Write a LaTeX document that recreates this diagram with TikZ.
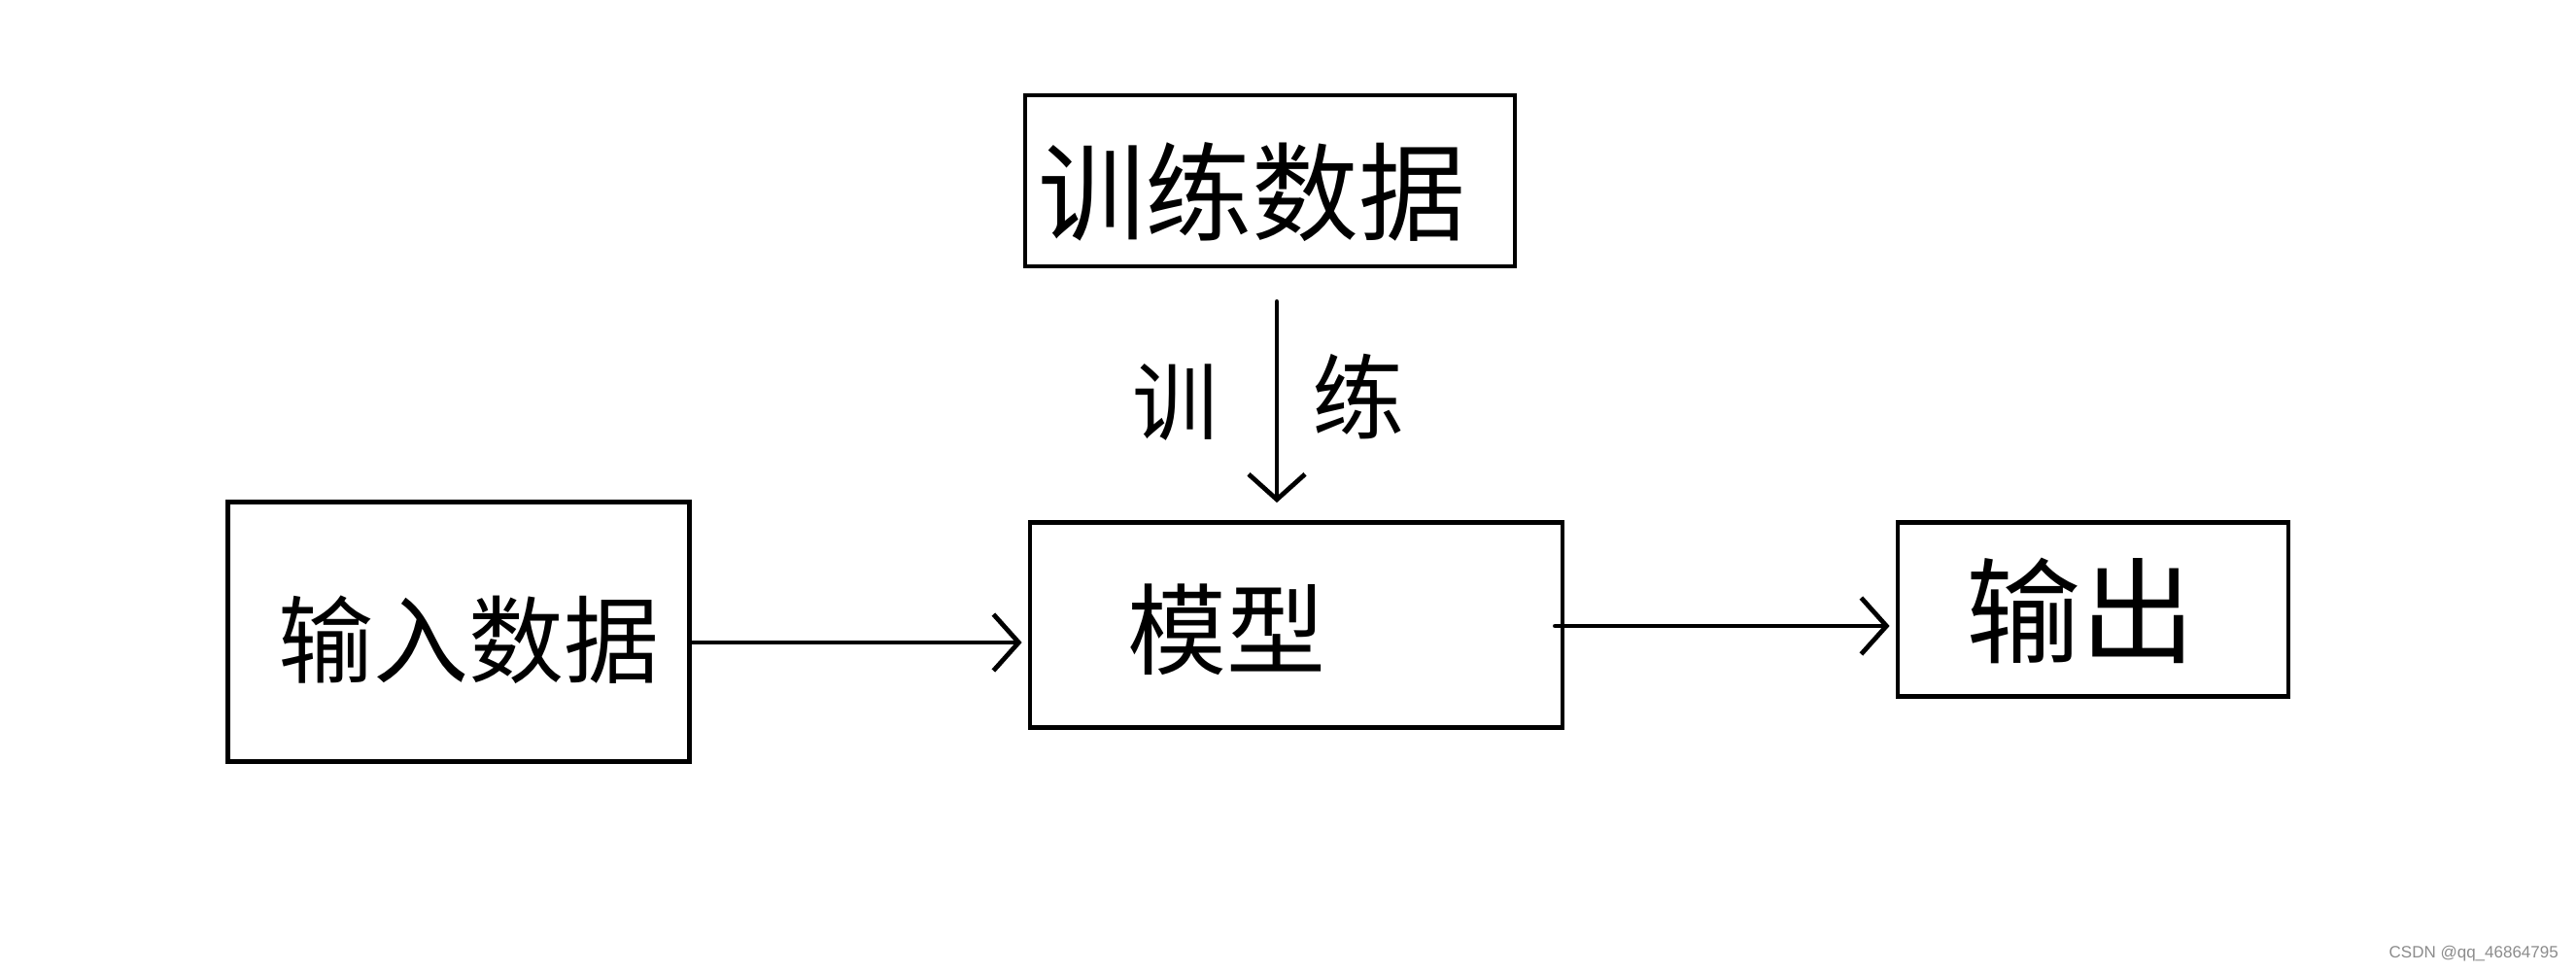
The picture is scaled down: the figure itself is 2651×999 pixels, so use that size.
\documentclass[tikz,border=0pt]{standalone}
\usepackage{fontspec}
\newfontfamily\cjk{Noto Sans CJK SC}
\setmainfont{Liberation Sans}
\usetikzlibrary{arrows.meta}
\begin{document}
\begin{tikzpicture}[x=1pt,y=-1pt,
  box/.style={draw,line width=4.8pt,inner sep=0pt},
  txt/.style={font=\cjk\fontsize{88}{88}\selectfont,inner sep=0pt},
  arr/.style={line width=4.8pt,line cap=round,-{Straight Barb[length=26pt,width=58pt,line width=4.8pt]}}]
\useasboundingbox[fill=white] (0,0) rectangle (2651,999);
% boxes
\node[box,minimum width=504pt,minimum height=176pt] (train) at (1307,186) {};
\node[box,minimum width=475pt,minimum height=267pt] (input) at (472,650) {};
\node[box,minimum width=548pt,minimum height=211pt] (model) at (1334,643) {};
\node[box,minimum width=402pt,minimum height=179pt] (output) at (2154,627) {};
% texts
\node[txt,font=\cjk\fontsize{110}{110}\selectfont] (ttrain) at (1288,198) {训练数据};
\node[txt,font=\cjk\fontsize{98}{98}\selectfont] (tinput) at (482,658) {输入数据};
\node[txt,font=\cjk\fontsize{102}{102}\selectfont] (tmodel) at (1262,648) {模型};
\node[txt,font=\cjk\fontsize{118}{118}\selectfont] (toutput) at (2141,628) {输出};
\node[txt,font=\cjk\fontsize{88}{88}\selectfont] (l1) at (1209,414) {训};
\node[txt,font=\cjk\fontsize{95}{95}\selectfont] (l2) at (1398,408) {练};
% connectors
\draw[arr,shorten <=34pt,shorten >=18pt] ([xshift=7pt]train.south) -- ([xshift=-20pt]model.north);
\draw[arr,shorten >=6pt] ([yshift=-11pt]input.east) -- ([yshift=-11pt]input.east -| model.west);
\draw[arr,shorten >=6pt] ([xshift=-10pt,yshift=-1pt]model.east) -- ([yshift=-1pt]model.east -| output.west);
% watermark
\node[anchor=east,inner sep=0pt,text=black!45,font=\fontsize{17}{17}\selectfont] (wm) at (2633,981) {CSDN @qq\_46864795};
\end{tikzpicture}
\end{document}
